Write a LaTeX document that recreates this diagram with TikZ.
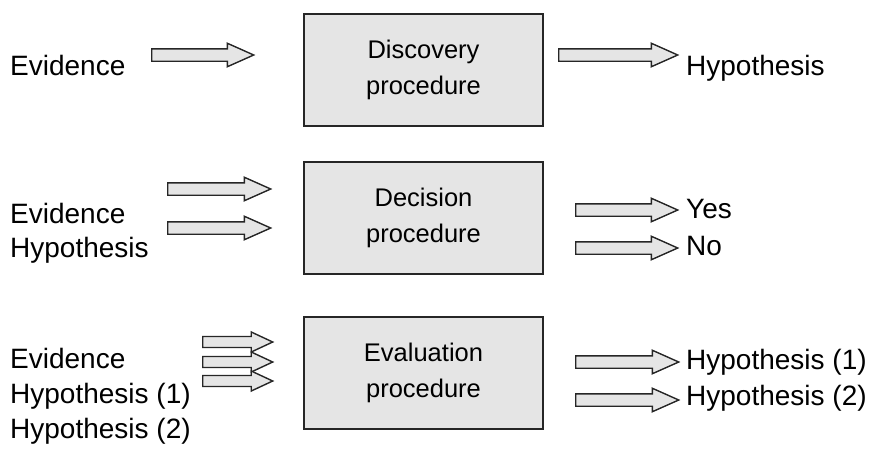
\documentclass[tikz,border=0pt]{standalone}
\usepackage{fontspec}
\setmainfont{Liberation Sans}
\usetikzlibrary{shapes.arrows,positioning}

\begin{document}
\begin{tikzpicture}[x=1pt,y=-1pt]
\tikzstyle{every node}=[inner sep=0pt]
\tikzstyle{term}=[anchor=base west,font=\fontsize{28}{34}\selectfont]
\tikzstyle{proc}=[draw=black!85,line width=1.6pt,fill=black!10,minimum width=239pt,minimum height=112pt,align=center,font=\fontsize{25.5}{35.5}\selectfont]
\tikzstyle{fat}=[single arrow,draw=black!85,line width=1.4pt,fill=black!10,inner xsep=0pt,inner ysep=5.5pt,single arrow head extend=5.5pt,single arrow tip angle=48,anchor=tail]
\tikzstyle{thin fat}=[fat,inner ysep=4.8pt,single arrow head extend=4.5pt,single arrow tip angle=50]
\useasboundingbox (0,0) rectangle (873,450);

% discovery
\node[term] (ev1) at (10,75) {Evidence};
\node[fat,minimum height=102pt] (ina) at (151,55) {};
\node[proc] (disc) at (423.5,70) {Discovery\\procedure};
\node[fat,minimum height=119pt] (outa) at (558,55) {};
\node[term] (hyp1) at (686,75) {Hypothesis};

% decision
\node[term] (ev2) at (10,223) {Evidence};
\node[term] (hyp2) at (10,257) {Hypothesis};
\node[fat,minimum height=103pt] (inb1) at (167,189) {};
\node[fat,minimum height=103pt] (inb2) at (167,228) {};
\node[proc] (deci) at (423.5,218) {Decision\\procedure};
\node[fat,minimum height=102pt] (outb1) at (575,210) {};
\node[fat,minimum height=102pt] (outb2) at (575,248) {};
\node[term] (yes) at (686,218) {Yes};
\node[term] (no) at (686,255) {No};

% evaluation
\node[term] (ev3) at (10,368) {Evidence};
\node[term] (hyp3a) at (10,403) {Hypothesis (1)};
\node[term] (hyp3b) at (10,438) {Hypothesis (2)};
\foreach \y/\n in {342/1,362/2,381/3}
  \node[thin fat,minimum height=70pt] (inc\n) at (202,\y) {};
\node[proc] (eval) at (423.5,373) {Evaluation\\procedure};
\node[fat,minimum height=103pt] (outc1) at (575,362) {};
\node[fat,minimum height=103pt] (outc2) at (575,400) {};
\node[term] (res1) at (686,369) {Hypothesis (1)};
\node[term] (res2) at (686,405) {Hypothesis (2)};
\end{tikzpicture}
\end{document}
